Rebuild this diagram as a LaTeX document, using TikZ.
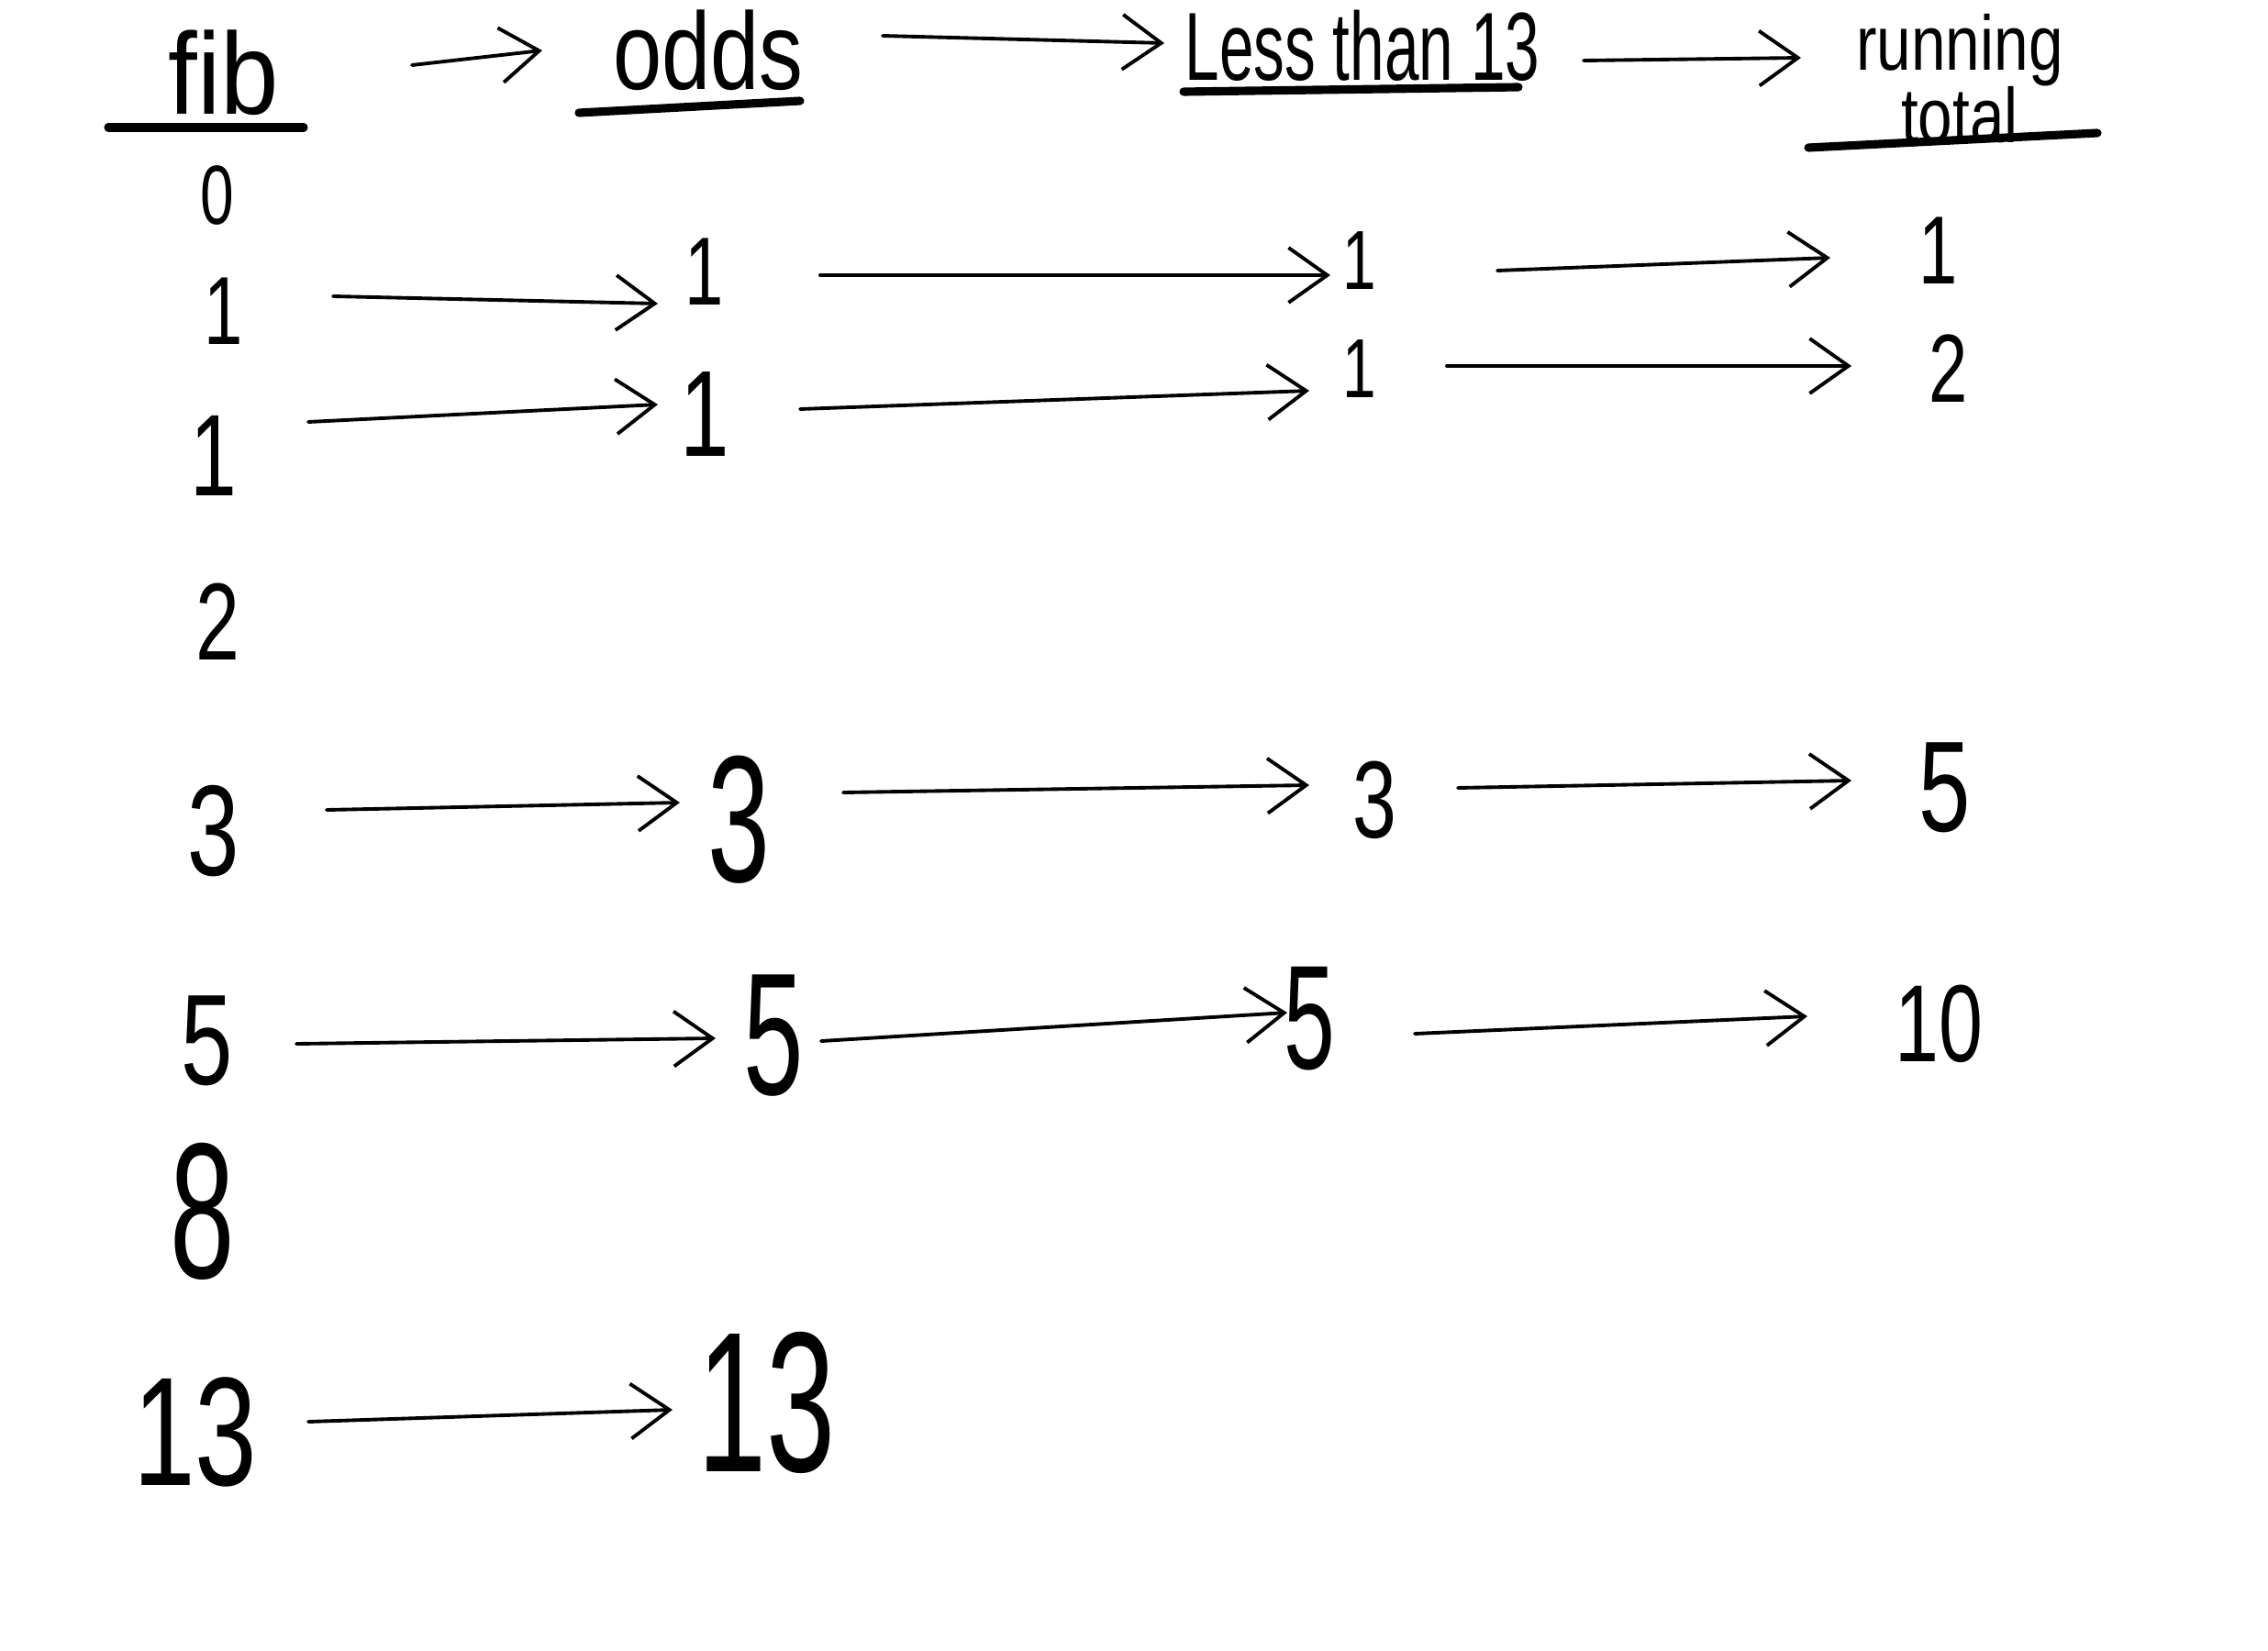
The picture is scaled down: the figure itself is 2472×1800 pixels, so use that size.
\documentclass[tikz,border=0pt]{standalone}
\usepackage{fontspec}
\setmainfont{Liberation Sans}
\usetikzlibrary{arrows.meta,calc}
\newcommand{\handw}[2][0.72]{\scalebox{#1}[1]{#2}}
\begin{document}
\begin{tikzpicture}[x=0.01cm,y=-0.01cm,
  num/.style={inner sep=2pt,font=\fontsize{#1}{#1}\selectfont},
  head/.style={inner sep=2pt,align=center,font=\fontsize{#1}{16}\selectfont},
  conn/.style={line width=1.1pt,line cap=round,-{Straight Barb[length=12pt,width=17pt,line width=1.1pt]}},
  uline/.style={line width=2.6pt,line cap=round}]
\fill[white] (0,0) rectangle (2472,1800);
\useasboundingbox (0,0) rectangle (2472,1800);

% headers
\node[head=36] (hfib) at (244,79) {\handw[0.9]{fib}};
\node[head=34] (hodds) at (772,55) {\handw[0.8]{odds}};
\node[head=30] (hless) at (1485,50) {\handw[0.64]{Less than 13}};
\node[head=24] (htot) at (2136,86) {\handw[0.8]{running}\\[-1pt]\handw[0.8]{total}};

\draw[uline] ($(hfib)+(-126,60)$) -- ($(hfib)+(87,60)$);
\draw[uline] ($(hodds)+(-141,68)$) -- ($(hodds)+(100,55)$);
\draw[uline] ($(hless)+(-195,50)$) -- ($(hless)+(170,45)$);
\draw[uline] ($(htot)+(-165,75)$) -- ($(htot)+(150,59)$);

\draw[conn] ($(hfib)+(205,-8)$) -- ($(hodds)+(-181,0)$);
\draw[conn] ($(hodds)+(190,-16)$) -- ($(hless)+(-216,-3)$);
\draw[conn] ($(hless)+(241,16)$) -- ($(htot)+(-173,-23)$);

% fib column
\node[num=26] (f0) at (237,213) {\handw{0}};
\node[num=30] (f1) at (244,339) {\handw{1}};
\node[num=36] (f1b) at (233,497) {\handw{1}};
\node[num=34] (f2) at (237,678) {\handw{2}};
\node[num=40] (f3) at (233,906) {\handw{3}};
\node[num=40] (f5) at (226,1135) {\handw{5}};
\node[num=60] (f8) at (221,1321) {\handw[0.6]{8}};
\node[num=48] (f13) at (213,1561) {\handw{13}};

% odds column
\node[num=30] (o1) at (768,296) {\handw{1}};
\node[num=38] (o1b) at (768,452) {\handw{1}};
\node[num=56] (o3) at (805,894) {\handw[0.62]{3}};
\node[num=54] (o5) at (843,1129) {\handw[0.62]{5}};
\node[num=62] (o13) at (836,1529) {\handw[0.62]{13}};

% less than 13 column
\node[num=26] (l1) at (1482,284) {\handw{1}};
\node[num=26] (l1b) at (1482,402) {\handw{1}};
\node[num=34] (l3) at (1498,872) {\handw{3}};
\node[num=46] (l5) at (1427,1111) {\handw[0.62]{5}};

% running total column
\node[num=30] (t1) at (2113,273) {\handw{1}};
\node[num=30] (t2) at (2124,402) {\handw{2}};
\node[num=40] (t5) at (2120,859) {\handw{5}};
\node[num=34] (t10) at (2113,1116) {\handw{10}};

% row 1
\draw[conn] ($(f1)+(119,-16)$) -- ($(o1)+(-51,35)$);
\draw[conn] ($(o1)+(126,4)$) -- ($(l1)+(-32,16)$);
\draw[conn] ($(l1)+(150,11)$) -- ($(t1)+(-118,8)$);
% row 1 (second)
\draw[conn] ($(f1b)+(103,-37)$) -- ($(o1b)+(-51,-11)$);
\draw[conn] ($(o1b)+(104,-6)$) -- ($(l1b)+(-55,24)$);
\draw[conn] ($(l1b)+(95,-3)$) -- ($(t2)+(-106,-3)$);
% row 3
\draw[conn] ($(f3)+(123,-23)$) -- ($(o3)+(-64,-19)$);
\draw[conn] ($(o3)+(114,-30)$) -- ($(l3)+(-71,-16)$);
\draw[conn] ($(l3)+(91,-13)$) -- ($(t5)+(-102,-8)$);
% row 5
\draw[conn] ($(f5)+(97,3)$) -- ($(o5)+(-63,3)$);
\draw[conn] ($(o5)+(52,6)$) -- ($(l5)+(-24,-7)$);
\draw[conn] ($(l5)+(115,16)$) -- ($(t10)+(-143,-8)$);
% row 13
\draw[conn] ($(f13)+(123,-11)$) -- ($(o13)+(-103,8)$);
\end{tikzpicture}
\end{document}
